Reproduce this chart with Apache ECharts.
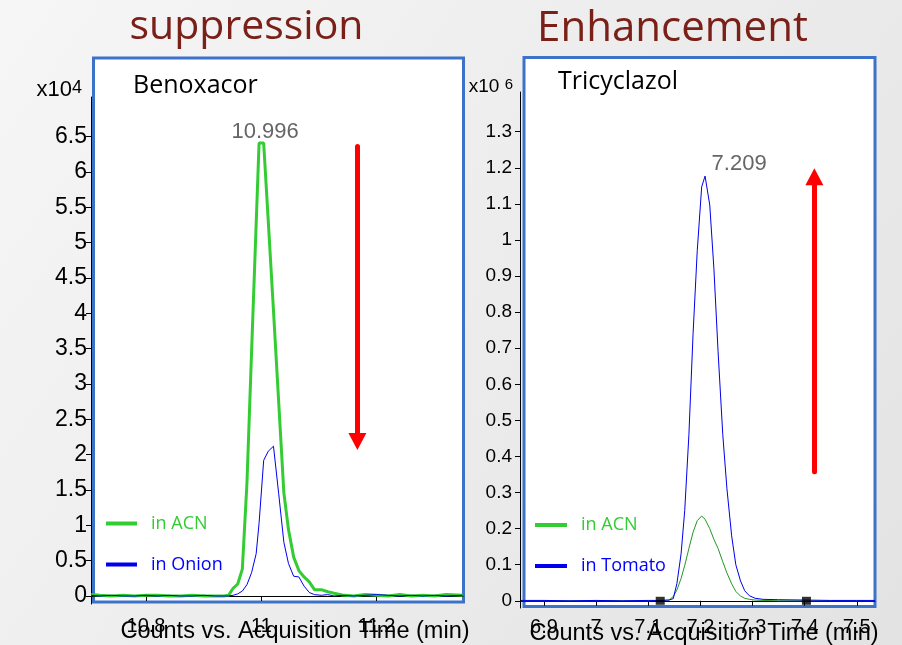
<!DOCTYPE html>
<html>
<head>
<meta charset="utf-8">
<script src="https://cdn.jsdelivr.net/npm/echarts@6/dist/echarts.min.js"></script>
<style>
  html, body { margin: 0; padding: 0; }
  #chart { width: 902px; height: 645px; }
</style>
</head>
<body>
<div id="chart"></div>
<script>
// Benoxacor (suppression) – time in min, counts x10^4
const benoxTime = [10.705, 10.72, 10.74, 10.76, 10.78, 10.80, 10.82, 10.84, 10.86, 10.88, 10.90, 10.92,
  10.935, 10.943, 10.951, 10.959, 10.967, 10.975, 10.983, 10.991, 10.996, 11.004, 11.012, 11.021,
  11.030, 11.039, 11.047, 11.056, 11.065, 11.074, 11.083, 11.092, 11.104, 11.115, 11.126, 11.14,
  11.16, 11.18, 11.20, 11.22, 11.24, 11.26, 11.28, 11.30, 11.32, 11.349]
const benoxAcn = [0.02, 0.01, 0, 0.01, 0, 0.01, 0.01, 0, 0, 0.01, 0, 0,
  0, 0.01, 0.11, 0.17, 0.38, 1.6, 3.45, 5.27, 6.41, 6.41, 5.3, 4.04,
  2.75, 1.46, 0.94, 0.55, 0.36, 0.27, 0.2, 0.09, 0.09, 0.06, 0.04, 0.015,
  0, 0.02, 0.01, 0, 0.02, 0, 0.01, 0, 0.02, 0.01]
const benoxOnion = [0.01, 0, 0.01, 0, 0, 0.01, 0, 0.01, 0, 0, 0.01, 0,
  0, 0, 0.01, 0.03, 0.07, 0.16, 0.33, 0.6, 1.03, 1.92, 2.05, 2.12,
  1.45, 0.76, 0.46, 0.28, 0.27, 0.14, 0.05, 0.02, 0.01, 0.02, 0, 0.01,
  0, 0.01, 0.02, 0.01, 0, 0.01, 0, 0.01, 0, 0.01]

// Tricyclazol (enhancement) – time in min, counts x10^6
const tricyTime = [6.856, 6.9, 6.95, 7.0, 7.05, 7.1, 7.125, 7.14, 7.148, 7.155, 7.163, 7.170,
  7.178, 7.186, 7.194, 7.2025, 7.209, 7.218, 7.226, 7.234, 7.243, 7.251, 7.260, 7.268,
  7.277, 7.285, 7.294, 7.305, 7.32, 7.35, 7.4, 7.45, 7.5, 7.535]
const tricyAcn = [0, 0, 0, 0, 0, 0, 0.001, 0.002, 0.012, 0.03, 0.062, 0.098,
  0.145, 0.19, 0.222, 0.235, 0.226, 0.2, 0.17, 0.145, 0.108, 0.077, 0.047, 0.026,
  0.013, 0.007, 0.004, 0.002, 0.001, 0, 0, 0, 0, 0]
const tricyTomato = [0.001, 0.001, 0, 0.001, 0, 0.001, 0.001, 0.002, 0.006, 0.048, 0.13, 0.25,
  0.46, 0.74, 0.97, 1.147, 1.177, 1.097, 0.92, 0.69, 0.46, 0.31, 0.18, 0.10,
  0.055, 0.028, 0.014, 0.007, 0.004, 0.003, 0.002, 0.001, 0.001, 0.001]
const tricyMarkers = [[7.123, 0], [7.4035, 0]]

// tick labels
const benoxXTicks = [10.8, 11, 11.2]
const benoxYTicks = [0, 0.5, 1, 1.5, 2, 2.5, 3, 3.5, 4, 4.5, 5, 5.5, 6, 6.5]
const tricyXTicks = [6.9, 7, 7.1, 7.2, 7.3, 7.4, 7.5]
const tricyYTicks = [0, 0.1, 0.2, 0.3, 0.4, 0.5, 0.6, 0.7, 0.8, 0.9, 1, 1.1, 1.2, 1.3]

const zip = (xs, ys) => xs.map((x, i) => [x, ys[i]])

const ARIAL = 'Liberation Sans'
const SANS = 'Open Sans'
const GREEN = '#33cc33'
const BLUE = '#0000ee'
const BOX = '#3d72c9'

function xAxisOpt(grid, min, max, ticks, font, margin, nameGap, namePad){
  return {
    gridIndex: grid, type: 'value', min: min, max: max,
    splitLine: {show: false},
    axisLine: {lineStyle: {color: '#000', width: 1}},
    axisTick: {customValues: ticks, length: 5, lineStyle: {color: '#000'}},
    axisLabel: {customValues: ticks, color: '#000', fontFamily: ARIAL, fontSize: font, margin: margin},
    name: 'Counts vs. Acquisition Time (min)',
    nameLocation: 'middle',
    nameGap: nameGap,
    nameMoveOverlap: false,
    nameTextStyle: {color: '#000', fontFamily: ARIAL, fontSize: 23.5, padding: [0, 0, 0, namePad]}
  }
}

function yAxisOpt(grid, min, max, ticks, font, margin, name, nameFont, nameGap, namePad){
  return {
    gridIndex: grid, type: 'value', min: min, max: max,
    splitLine: {show: false},
    axisLine: {lineStyle: {color: '#000', width: 1}},
    axisTick: {customValues: ticks, length: 5, lineStyle: {color: '#000'}},
    axisLabel: {customValues: ticks, color: '#000', fontFamily: ARIAL, fontSize: font, margin: margin},
    name: name,
    nameLocation: 'end',
    nameGap: nameGap,
    nameTextStyle: {
      color: '#000', fontFamily: ARIAL, fontSize: nameFont,
      align: 'right', verticalAlign: 'middle', padding: [0, namePad, 0, 0],
      rich: {sup: {fontFamily: ARIAL, fontSize: nameFont - 4, verticalAlign: 'top', color: '#000'}}
    }
  }
}

function legendOpt(left, top, width, names, colors){
  return {
    orient: 'vertical', left: left, top: top, padding: 0,
    itemWidth: width, itemHeight: 14, itemGap: 23,
    lineStyle: {width: 4},
    itemStyle: {opacity: 0, borderWidth: 0},
    textStyle: {fontFamily: SANS, fontSize: 18, padding: [0, 0, 0, 9]},
    data: names.map((n, i) => ({name: n, textStyle: {color: colors[i]}}))
  }
}

const Chart = echarts.init(document.getElementById('chart'))
Chart.setOption({
  animation: false,
  backgroundColor: {
    type: 'linear', x: 0, y: 0, x2: 1, y2: 1,
    colorStops: [{offset: 0, color: '#f6f6f6'}, {offset: 1, color: '#e3e3e3'}]
  },
  graphic: [
    {type: 'rect', z: -10, shape: {x: 93.5, y: 58, width: 370, height: 544},
      style: {fill: '#fff', stroke: BOX, lineWidth: 3}},
    {type: 'rect', z: -10, shape: {x: 524, y: 57.5, width: 351, height: 549},
      style: {fill: '#fff', stroke: BOX, lineWidth: 3}},
    {type: 'text', x: 246.5, y: 27.5, style: {text: 'suppression', fill: '#7a2018',
      font: '41px "Open Sans"', textAlign: 'center', textVerticalAlign: 'middle'}},
    {type: 'text', x: 672.5, y: 29, style: {text: 'Enhancement', fill: '#7a2018',
      font: '42px "Open Sans"', textAlign: 'center', textVerticalAlign: 'middle'}},
    {type: 'text', x: 133, y: 85.5, style: {text: 'Benoxacor', fill: '#000',
      font: '25px "Open Sans"', textAlign: 'left', textVerticalAlign: 'middle'}},
    {type: 'text', x: 558, y: 82, style: {text: 'Tricyclazol', fill: '#000',
      font: '25px "Open Sans"', textAlign: 'left', textVerticalAlign: 'middle'}}
  ],
  legend: [
    legendOpt(104, 514.5, 31, ['in ACN', 'in Onion'], [GREEN, '#0000ff']),
    legendOpt(533, 516, 32, ['in ACN', 'in Tomato'], [GREEN, '#0000ff'])
  ],
  grid: [
    {left: 91, right: 439, top: 97, bottom: 41, outerBoundsMode: 'none'},
    {left: 520, right: 27, top: 92, bottom: 37, outerBoundsMode: 'none'}
  ],
  xAxis: [
    xAxisOpt(0, 10.7046, 11.3496, benoxXTicks, 20, 12, 16, 36),
    xAxisOpt(1, 6.854, 7.535, tricyXTicks, 20, 9, 14, 13)
  ],
  yAxis: [
    yAxisOpt(0, -0.113, 7.062, benoxYTicks, 23, 4, 'x10{sup|4}', 22, 7, 9),
    yAxisOpt(1, -0.020, 1.410, tricyYTicks, 19, 8, 'x10 {sup|6}', 19, 5, 7)
  ],
  series: [
    {
      name: 'in ACN', type: 'line', xAxisIndex: 0, yAxisIndex: 0,
      symbol: 'none', showSymbol: false,
      lineStyle: {color: GREEN, width: 3}, itemStyle: {color: GREEN},
      data: zip(benoxTime, benoxAcn),
      markPoint: {
        silent: true, symbol: 'circle', symbolSize: 1,
        itemStyle: {color: 'rgba(0,0,0,0)'},
        label: {show: true, position: 'top', distance: 0, offset: [6, 0],
          formatter: '10.996', color: '#666', fontFamily: ARIAL, fontSize: 22},
        data: [{coord: [10.996, 6.41]}]
      },
      markLine: {
        silent: true, symbol: ['none', 'triangle'], symbolSize: [18, 17],
        label: {show: false},
        lineStyle: {color: '#ff0000', width: 5, type: 'solid', cap: 'round'},
        data: [[{coord: [11.1665, 6.36]}, {coord: [11.1665, 2.187]}]]
      }
    },
    {
      name: 'in Onion', type: 'line', xAxisIndex: 0, yAxisIndex: 0,
      symbol: 'none', showSymbol: false,
      lineStyle: {color: BLUE, width: 1}, itemStyle: {color: BLUE},
      data: zip(benoxTime, benoxOnion)
    },
    {
      name: 'in ACN', type: 'line', xAxisIndex: 1, yAxisIndex: 1,
      symbol: 'none', showSymbol: false,
      lineStyle: {color: '#229922', width: 1}, itemStyle: {color: '#229922'},
      data: zip(tricyTime, tricyAcn)
    },
    {
      name: 'in Tomato', type: 'line', xAxisIndex: 1, yAxisIndex: 1,
      symbol: 'none', showSymbol: false, z: 3,
      lineStyle: {color: BLUE, width: 1}, itemStyle: {color: BLUE},
      data: zip(tricyTime, tricyTomato),
      markPoint: {
        silent: true, symbol: 'circle', symbolSize: 1,
        itemStyle: {color: 'rgba(0,0,0,0)'},
        label: {show: true, position: 'right', distance: 6, offset: [0, -12],
          formatter: '7.209', color: '#666', fontFamily: ARIAL, fontSize: 22},
        data: [{coord: [7.209, 1.177]}]
      },
      markLine: {
        silent: true, symbol: ['none', 'triangle'], symbolSize: [18, 17],
        label: {show: false},
        lineStyle: {color: '#ff0000', width: 5, type: 'solid', cap: 'round'},
        data: [[{coord: [7.4187, 0.3575]}, {coord: [7.4187, 1.175]}]]
      }
    },
    {
      name: 'markers', type: 'scatter', xAxisIndex: 1, yAxisIndex: 1,
      symbol: 'rect', symbolSize: [9, 8], z: 4,
      itemStyle: {color: '#000'},
      data: tricyMarkers
    }
  ]
})
</script>
</body>
</html>
